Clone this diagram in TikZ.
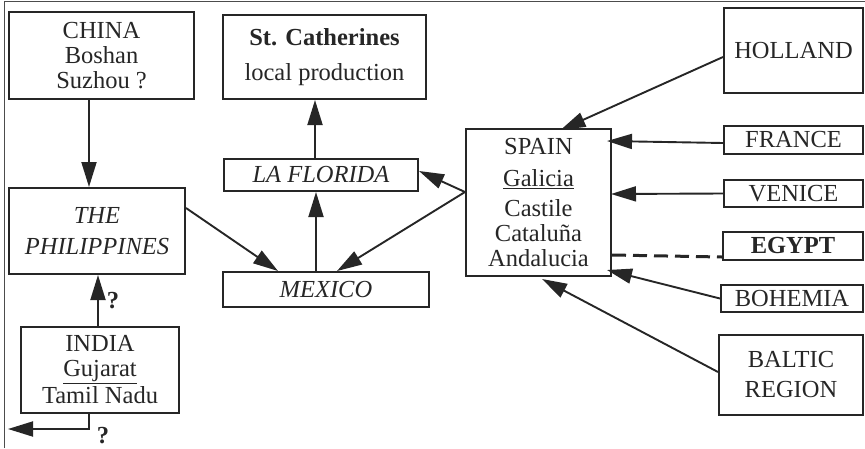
\documentclass[tikz,border=0pt]{standalone}
\usepackage{fontspec}
\setmainfont{Liberation Serif}
\usetikzlibrary{arrows.meta, positioning}
\colorlet{ink}{black!85}
\tikzset{
  place/.style={rectangle, draw=ink, text=ink, line width=2pt, inner sep=0pt,
                align=center, font=\fontsize{24.5}{25}\selectfont},
  arr/.style={-{Triangle[length=25pt, width=15pt]}, line width=1.9pt, draw=ink},
  maybe/.style={line width=3pt, draw=ink, dash pattern=on 14pt off 7pt},
  query/.style={text=ink, inner sep=0pt, font=\fontsize{24.5}{25}\selectfont\bfseries},
  frame/.style={line width=0.8pt, draw=black!70},
}

\begin{document}
\begin{tikzpicture}[x=1pt, y=-1pt]

  \useasboundingbox (0,0) rectangle (865,448);
  \draw[frame] (4,448) -- (4,1.5) -- (865,1.5);

  % left column
  \node[place, minimum width=185pt, minimum height=87pt] (china) at (101.5,55.5)
    {CHINA\\Boshan\\Suzhou ?};
  \node[place, minimum width=176pt, minimum height=86pt, font=\fontsize{24.5}{25}\selectfont\itshape]
    (phil) at (97,231) {THE\\[6pt]PHILIPPINES};
  \node[place, minimum width=158pt, minimum height=86pt] (india) at (100,370)
    {INDIA\\\underline{Gujarat}\\[2pt]Tamil Nadu};
  \coordinate (west) at (8,429);
  \node[query] (q1) at (113,301) {?};
  \node[query] (q2) at (103,436) {?};

  % centre column
  \node[place, minimum width=203pt, minimum height=84pt] (stcath) at (324.5,57)
    {\textbf{St. Catherines}\\[10pt]local production};
  \node[place, minimum width=194pt, minimum height=32pt, font=\fontsize{24.5}{25}\selectfont\itshape]
    (florida) at (321,175) {LA FLORIDA};
  \node[place, minimum width=206pt, minimum height=35pt, font=\fontsize{24.5}{25}\selectfont\itshape]
    (mexico) at (326,289.5) {MEXICO};

  \node[place, minimum width=145pt, minimum height=147pt] (spain) at (538.5,202.5)
    {SPAIN\\[7pt]\underline{Galicia}\\[5pt]Castile\\Cataluña\\Andalucia};

  % right column
  \node[place, minimum width=139pt, minimum height=85pt] (holland) at (793.5,50.5) {HOLLAND};
  \node[place, minimum width=139pt, minimum height=28pt] (france) at (793.5,140) {FRANCE};
  \node[place, minimum width=139pt, minimum height=27pt] (venice) at (793.5,193.5) {VENICE};
  \node[place, minimum width=140pt, minimum height=28pt] (egypt) at (793,246) {\textbf{EGYPT}};
  \node[place, minimum width=142pt, minimum height=27pt] (bohemia) at (792,298.5) {BOHEMIA};
  \node[place, minimum width=144pt, minimum height=80pt] (baltic) at (791,375)
    {BALTIC\\[5pt]REGION};

  % flows
  \draw[arr] ([xshift=-12.5pt]china.south) -- ([xshift=-8pt]phil.north);
  \draw[arr] ([xshift=-2pt]india.north) -- ([xshift=1pt]phil.south);
  \draw[arr] ([xshift=-11pt]india.south) |- (west);
  \draw[arr] ([yshift=23pt]phil.east) -- ([xshift=-48pt]mexico.north);
  \draw[arr] ([xshift=-10pt]mexico.north) -- ([xshift=-5pt]florida.south);
  \draw[arr] ([xshift=-6pt]florida.north) -- ([xshift=-9.5pt]stcath.south);
  \draw[arr] ([yshift=10.5pt]spain.west) -- ([xshift=11pt]mexico.north);
  \draw[arr] ([yshift=10.5pt]spain.west) -- ([yshift=4pt]florida.east);

  \draw[arr] ([yshift=-6.5pt]holland.west) -- ([xshift=22pt, yshift=-2pt]spain.north);
  \draw[arr] ([yshift=-3pt]france.west) -- ([xshift=-5pt, yshift=61.5pt]spain.east);
  \draw[arr] (venice.west) -- ([xshift=-1pt, yshift=8.5pt]spain.east);
  \draw[maybe] ([yshift=-52.5pt]spain.east) -- ([yshift=-11pt]egypt.west);
  \draw[arr] (bohemia.west) -- ([xshift=-5pt, yshift=-67.5pt]spain.east);
  \draw[arr] ([yshift=3pt]baltic.west) -- ([xshift=3.5pt, yshift=-2pt]spain.south);

\end{tikzpicture}
\end{document}
